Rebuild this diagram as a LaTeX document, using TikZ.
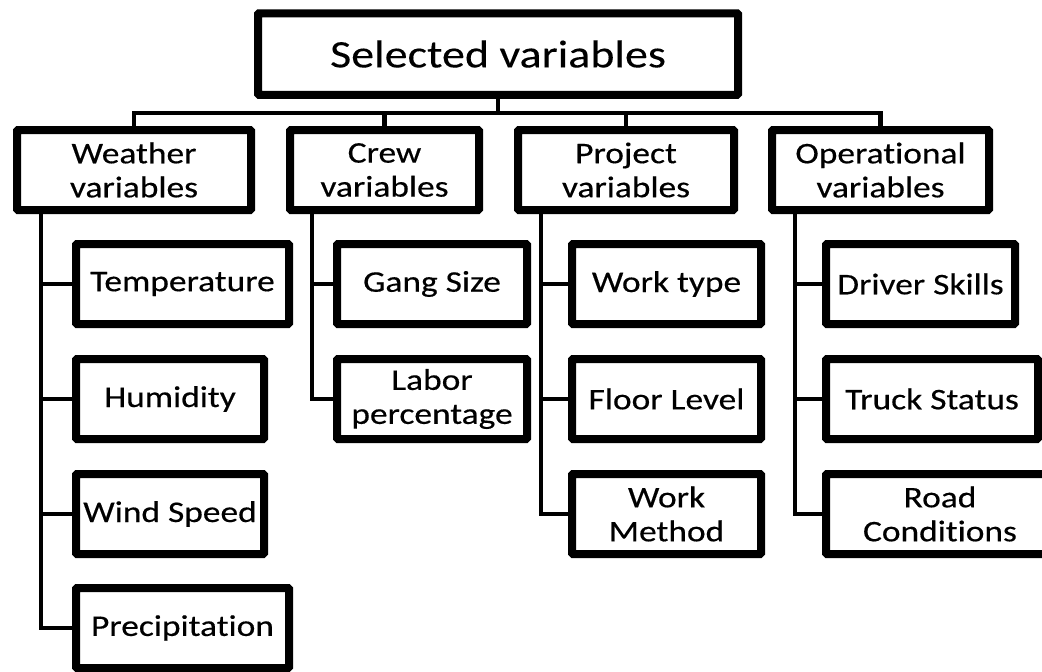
\documentclass[tikz,border=0pt]{standalone}
\usepackage{fontspec}
\setmainfont{Carlito}[FakeStretch=1.18,FakeBold=0.4,Ligatures={NoCommon}]
\newfontfamily\titlefont{Carlito}[FakeStretch=1.18,FakeBold=0.15,Ligatures={NoCommon}]
\usetikzlibrary{calc}
\usetikzlibrary{shadows}

\begin{document}
\begin{tikzpicture}[x=1pt,y=-1pt,
  box/.style={draw,line width=8pt,rounded corners=1pt,fill=white,align=center,
    inner sep=0pt,outer sep=0pt,minimum height=80pt,font=\fontsize{30}{34}\selectfont,
    drop shadow={shadow xshift=1.5pt,shadow yshift=-2.5pt,opacity=.3}},
  link/.style={line width=4.5pt,line cap=rect}]
\useasboundingbox (0,0) rectangle (1042,672);
\clip (0,0) rectangle (1042,672);

% top
\node[box,minimum width=480pt,minimum height=81.5pt,font=\titlefont\fontsize{39}{44}\selectfont] (sel) at (498,54) {Selected variables};

% groups
\node[box,minimum width=234pt] (weather) at (134,170) {Weather\\variables};
\node[box,minimum width=189pt] (crew) at (384.5,170) {Crew\\variables};
\node[box,minimum width=216pt] (project) at (626,170) {Project\\variables};
\node[box,minimum width=217pt] (oper) at (880.5,170) {Operational\\variables};

% weather
\node[box,minimum width=213pt] (temp) at (182.5,284) {Temperature};
\node[box,minimum width=188pt] (humid) at (170,399) {Humidity};
\node[box,minimum width=188pt] (wind) at (170,514) {Wind Speed};
\node[box,minimum width=213pt] (precip) at (182.5,628) {Precipitation};

% crew
\node[box,minimum width=190pt] (gang) at (432,284) {Gang Size};
\node[box,minimum width=190pt] (labor) at (432,399) {Labor\\percentage};

% project
\node[box,minimum width=189pt] (wtype) at (666.5,284) {Work type};
\node[box,minimum width=189pt] (floor) at (666.5,399) {Floor Level};
\node[box,minimum width=189pt] (wmeth) at (666.5,514) {Work\\Method};

% operational
\node[box,minimum width=189pt] (driver) at (920.5,284) {Driver Skills};
\node[box,minimum width=212pt] (truck) at (932,399) {Truck Status};
\node[box,minimum width=228pt] (road) at (940,514) {Road\\Conditions};

% bus
\coordinate (bus) at (500,113);
\draw[link] (sel.south) -- (sel.south |- bus);
\draw[link] (weather.north |- bus) -- (oper.north |- bus);
\draw[link] (weather.north) -- (weather.north |- bus);
\draw[link] (crew.north) -- (crew.north |- bus);
\draw[link] (project.north) -- (project.north |- bus);
\draw[link] (oper.north) -- (oper.north |- bus);

% trunks
\coordinate (wtr) at ([xshift=24pt]weather.south west);
\coordinate (ctr) at ([xshift=22pt]crew.south west);
\coordinate (ptr) at ([xshift=23pt]project.south west);
\coordinate (otr) at ([xshift=23pt]oper.south west);
\draw[link] (wtr) |- (precip.west);
\draw[link] (temp.west) -- (temp.west -| wtr);
\draw[link] (humid.west) -- (humid.west -| wtr);
\draw[link] (wind.west) -- (wind.west -| wtr);
\draw[link] (ctr) |- (labor.west);
\draw[link] (gang.west) -- (gang.west -| ctr);
\draw[link] (ptr) |- (wmeth.west);
\draw[link] (wtype.west) -- (wtype.west -| ptr);
\draw[link] (floor.west) -- (floor.west -| ptr);
\draw[link] (otr) |- (road.west);
\draw[link] (driver.west) -- (driver.west -| otr);
\draw[link] (truck.west) -- (truck.west -| otr);
\end{tikzpicture}
\end{document}
